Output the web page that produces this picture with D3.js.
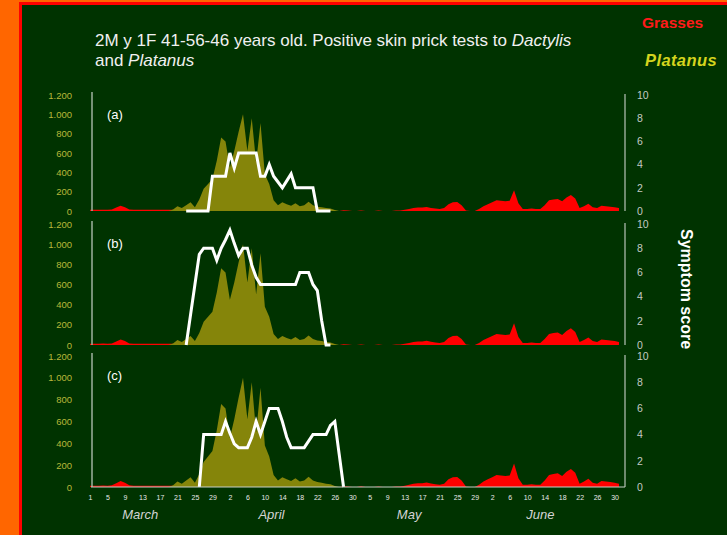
<!DOCTYPE html>
<html>
<head>
<meta charset="utf-8">
<script src="https://cdn.jsdelivr.net/npm/d3@7"></script>
<style>
  html, body { margin: 0; padding: 0; background: #ff6600; }
  svg { display: block; }
</style>
</head>
<body>
<svg id="chart" width="727" height="535"></svg>
<script>
// ---------------- DATA ----------------
// Daily values, index 0 = 1 March ... index 121 = end of June
const grasses = [
  12,12,12,14,12,15,35,55,40,15,            // 0-9
  12,12,12,12,12,12,12,12,12,12,            // 10-19
  12,12,12,12,10,8,0,0,0,0,                 // 20-29
  0,0,0,0,0,0,0,0,0,0,                      // 30-39
  0,0,0,0,0,0,0,0,0,0,                      // 40-49
  0,0,0,0,0,0,0,0,8,5,                      // 50-59
  0,0,6,0,0,0,5,0,0,0,                      // 60-69
  5,5,12,20,30,35,35,42,32,25,              // 70-79
  20,30,70,90,92,60,5,0,0,20,               // 80-89
  50,70,90,110,105,100,105,215,80,20,       // 90-99
  20,25,20,20,60,110,120,125,100,140,       // 100-109
  165,130,30,50,75,40,30,55,50,45,          // 110-119
  40,30                                     // 120-121
];
const platanus = [
  0,0,0,0,0,0,0,0,0,0,                      // 0-9
  0,0,0,0,0,0,0,0,0,15,                     // 10-19
  50,30,60,90,40,120,230,280,330,520,       // 20-29
  760,720,450,620,820,1000,620,960,500,910, // 30-39
  380,280,110,60,90,70,55,80,50,60,         // 40-49
  95,60,45,40,30,25,10,0,0,0,               // 50-59
  0,0,0,0,0,0,0,0,0,0,                      // 60-69
  0,0,0,0,0,0,0,0,0,0,                      // 70-79
  0,0,0,0,0,0,0,0,0,0,                      // 80-89
  0,0,0,0,0,0,0,0,0,0,                      // 90-99
  0,0,0,0,0,0,0,0,0,0,                      // 100-109
  0,0,0,0,0,0,0,0,0,0,                      // 110-119
  0,0                                       // 120-121
];
// Symptom scores (0-10), daily, starting at the given day index
const symptomAStart = 22;
const symptomA = [0,0,0,0,0,0,3,3,3,3,5,3.7,5,5,5,5,5,3,3,4,3,2.5,2,2.6,3.2,2,2,2,2,2,0,0,0,0];
const symptomBStart = 22;
const symptomB = [0,2.5,5,7.5,8,8,8,7,8,8.7,9.5,8.4,7.4,8,8,6.6,5.6,5,5,5,5,5,5,5,5,5,6,6,6,5,4.5,2,0,0];
const symptomCStart = 25;
const symptomC = [0,4,4,4,4,4,5,4.1,3.3,3,3,3,3.8,5,4,5,6,6,6,5,3.8,3,3,3,3,3.5,4,4,4,4,4.7,5,2.5,0];

const panelLabels = ["(a)", "(b)", "(c)"];
const pollenTicks = [0, 200, 400, 600, 800, 1000, 1200];
const symptomTicks = [0, 2, 4, 6, 8, 10];
const xTickLabels = ["1","5","9","13","17","21","25","29",
                     "2","6","10","14","18","22","26","30",
                     "5","9","13","17","21","25","29",
                     "2","6","10","14","18","22","26","30"];
const monthLabels = ["March", "April", "May", "June"];
const monthCenters = [11.5, 41.5, 73, 103];   // in day-index units
const titleLine1 = ["2M y 1F 41-56-46 years old. Positive skin prick tests to ", "Dactylis"];
const titleLine2 = ["and ", "Platanus"];
const legendNames = ["Grasses", "Platanus"];

// ---------------- DRAW ----------------
const svg = d3.select("#chart");
const W = 727, H = 535;
const BG = "#003300";
const OLIVE = "#85850a";
const RED = "#ff0000";

svg.append("rect").attr("x", 0).attr("y", 0).attr("width", W).attr("height", H).attr("fill", "#ff6600");
svg.append("rect").attr("x", 19).attr("y", 2).attr("width", W - 19).attr("height", H - 2).attr("fill", "#ff0000");
svg.append("rect").attr("x", 22).attr("y", 5).attr("width", W - 22).attr("height", H - 5).attr("fill", BG);

const FONT = "'Liberation Sans', Arial, sans-serif";

// Title
const t1 = svg.append("text").attr("x", 95).attr("y", 46).attr("fill", "#f0f0f0")
  .attr("font-family", FONT).attr("font-size", 17);
t1.append("tspan").text(titleLine1[0]);
t1.append("tspan").attr("font-style", "italic").text(titleLine1[1]);
const t2 = svg.append("text").attr("x", 95).attr("y", 66).attr("fill", "#f0f0f0")
  .attr("font-family", FONT).attr("font-size", 17);
t2.append("tspan").text(titleLine2[0]);
t2.append("tspan").attr("font-style", "italic").text(titleLine2[1]);

// Legend
svg.append("text").attr("x", 642).attr("y", 28).attr("fill", "#ff1a1a")
  .attr("font-family", FONT).attr("font-weight", "bold").attr("font-size", 15.5)
  .text(legendNames[0]);
svg.append("text").attr("x", 645).attr("y", 66).attr("fill", "#d4d41e")
  .attr("font-family", FONT).attr("font-weight", "bold").attr("font-style", "italic")
  .attr("font-size", 16.5).attr("letter-spacing", 0.4)
  .text(legendNames[1]);

// Scales
const x = d3.scaleLinear().domain([0, 120]).range([90, 614.6]);
const xLeft = 91, xRight = 625;

const locale = d3.formatLocale({ decimal: ",", thousands: ".", grouping: [3], currency: ["", ""] });
const fmt = locale.format(",");

const panels = [
  { top: 95,  bottom: 211, sym: symptomA, start: symptomAStart },
  { top: 224, bottom: 345, sym: symptomB, start: symptomBStart },
  { top: 356, bottom: 487, sym: symptomC, start: symptomCStart }
];

panels.forEach((p, pi) => {
  const yP = d3.scaleLinear().domain([0, 1200]).range([p.bottom, p.top]);
  const yS = d3.scaleLinear().domain([0, 10]).range([p.bottom, p.top]);
  const g = svg.append("g");

  const area = (yScale) => d3.area()
    .x((d, i) => x(i))
    .y0(yScale(0))
    .y1(d => yScale(d));

  g.append("path").datum(grasses).attr("d", area(yP)).attr("fill", RED);
  g.append("path").datum(platanus).attr("d", area(yP)).attr("fill", OLIVE);

  const line = d3.line()
    .x((d, i) => x(p.start + i))
    .y(d => yS(d));
  g.append("path").datum(p.sym).attr("d", line)
    .attr("fill", "none").attr("stroke", "#ffffff").attr("stroke-width", 3)
    .attr("stroke-linejoin", "miter");

  // Left axis
  const la = g.append("g").attr("transform", `translate(${xLeft + 1},0)`)
    .call(d3.axisLeft(yP).tickValues(pollenTicks).tickSize(0).tickPadding(20).tickFormat(fmt));
  la.select(".domain").remove();
  la.selectAll("text").attr("fill", "#b8b83a").attr("font-family", FONT).attr("font-size", 9.5);
  g.append("line").attr("x1", xLeft + 1).attr("x2", xLeft + 1)
    .attr("y1", p.top - 3).attr("y2", p.bottom)
    .attr("stroke", "#9fb39f").attr("stroke-width", 1.5);

  // Right axis
  const ra = g.append("g").attr("transform", `translate(${xRight},0)`)
    .call(d3.axisRight(yS).tickValues(symptomTicks).tickSize(0).tickPadding(12));
  ra.select(".domain").remove();
  ra.selectAll("text").attr("fill", "#c4cac4").attr("font-family", FONT).attr("font-size", 10.5);
  g.append("line").attr("x1", xRight).attr("x2", xRight)
    .attr("y1", p.top - 1).attr("y2", p.bottom)
    .attr("stroke", "#b8c4b8").attr("stroke-width", 1.2);

  // Panel label
  g.append("text").attr("x", 107).attr("y", p.top + 24)
    .attr("fill", "#ffffff").attr("font-family", FONT).attr("font-size", 13)
    .text(panelLabels[pi]);

  if (pi === panels.length - 1) {
    g.append("line").attr("x1", xLeft).attr("x2", xRight)
      .attr("y1", p.bottom).attr("y2", p.bottom)
      .attr("stroke", "#c8d0c8").attr("stroke-width", 1.2);
    const ba = g.append("g").attr("transform", `translate(0,${p.bottom})`)
      .call(d3.axisBottom(x).tickValues(d3.range(0, 121, 4)).tickSize(0).tickPadding(8)
        .tickFormat((d, i) => xTickLabels[i]));
    ba.select(".domain").remove();
    ba.selectAll("text").attr("fill", "#e8e8e8").attr("font-family", FONT).attr("font-size", 7);
  }
});

// Month labels
svg.append("g").selectAll("text").data(monthLabels).join("text")
  .attr("x", (d, i) => x(monthCenters[i]))
  .attr("y", 519)
  .attr("text-anchor", "middle")
  .attr("fill", "#d4d4d4").attr("font-family", FONT).attr("font-style", "italic")
  .attr("font-size", 13)
  .text(d => d);

// Right-hand axis title
svg.append("text")
  .attr("transform", "translate(681,289) rotate(90)")
  .attr("text-anchor", "middle")
  .attr("fill", "#ffffff").attr("font-family", FONT).attr("font-weight", "bold")
  .attr("font-size", 16)
  .text("Symptom score");
</script>
</body>
</html>
